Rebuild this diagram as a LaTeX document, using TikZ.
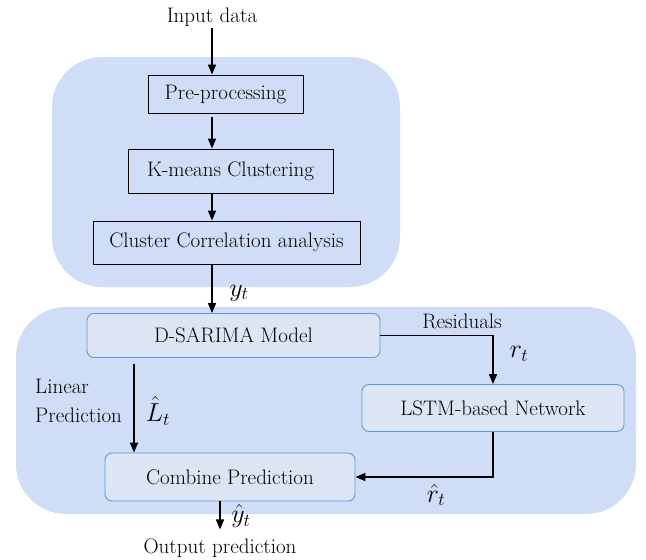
\RequirePackage{fix-cm}
\documentclass[tikz,border=0pt]{standalone}
\usepackage{fontspec}
\usetikzlibrary{arrows.meta}
\definecolor{panelblue}{HTML}{D0DDF7}
\definecolor{boxfill}{HTML}{DCE5F4}
\definecolor{boxline}{HTML}{5B9BD5}
\newcommand{\mlabel}[1]{\fontsize{26}{28}\selectfont$#1$}
\tikzset{
  arr/.style={-{Triangle[width=8pt,length=10pt]},line width=1.6pt},
  stagebox/.style={draw=black,line width=1pt,minimum width=#1,inner sep=0pt},
  modelbox/.style={draw=boxline,fill=boxfill,line width=0.9pt,rounded corners=7pt,minimum width=#1,inner sep=0pt},
  lbl/.style={inner sep=1pt}
}
\begin{document}
\begin{tikzpicture}[x=1pt,y=-1pt,font=\fontsize{21}{25}\selectfont]
  \useasboundingbox (0,0) rectangle (646,560);

  \fill[panelblue,rounded corners=50pt] (52,57) rectangle (400,287);
  \fill[panelblue,rounded corners=50pt] (16,307) rectangle (636,514);

  \node (input) at (212,17) [lbl] {Input data};
  \node (pre) at (225.5,94) [stagebox=155pt,minimum height=38pt] {Pre-processing};
  \node (kmeans) at (230.5,171) [stagebox=205pt,minimum height=44pt] {K-means Clustering};
  \node (cluster) at (226.5,242.5) [stagebox=267pt,minimum height=43pt] {Cluster Correlation analysis};

  \node (dsarima) at (233.5,335.5) [modelbox=293pt,minimum height=44pt] {D-SARIMA Model};
  \node (lstm) at (493,408) [modelbox=262pt,minimum height=47pt] {LSTM-based Network};
  \node (combine) at (230,477) [modelbox=250pt,minimum height=48pt] {Combine Prediction};
  \node (output) at (220,548) [lbl] {Output prediction};

  \draw[arr] (input.south) -- (input.south |- pre.north);
  \draw[arr] ([yshift=-3pt]pre.south -| input) -- (kmeans.north -| input);
  \draw[arr] (kmeans.south -| input) -- (cluster.north -| input);
  \draw[arr] (cluster.south -| input) -- (dsarima.north -| input);
  \node (yt) at (239,293) [lbl] {\mlabel{y_t}};

  \draw[arr] (dsarima.east) -| (lstm.north);
  \node (res) at (462,321) [lbl] {Residuals};
  \node (rt) at (519,354) [lbl] {\mlabel{r_t}};

  \coordinate (lin) at (134,364);
  \draw[arr] (lin) -- (lin |- combine.north);
  \node (linear) at (34,401) [lbl,anchor=west,align=left] {Linear\\[4pt]Prediction};
  \node (Lt) at (158,411) [lbl] {\mlabel{\hat{L}_t}};

  \draw[arr] (lstm.south) |- (combine.east);
  \node (rhat) at (436,495) [lbl] {\mlabel{\hat{r}_t}};

  \draw[arr] (combine.south -| output) -- ++(0,28);
  \node (yhat) at (241,516) [lbl] {\mlabel{\hat{y}_t}};

\end{tikzpicture}
\end{document}
